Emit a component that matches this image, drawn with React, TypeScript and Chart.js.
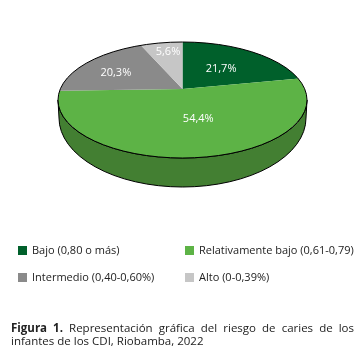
import React, { useEffect, useRef } from "react";
import { Chart, registerables } from "chart.js";

Chart.register(...registerables);

const categories = ["Bajo (0,80 o más)", "Relativamente bajo (0,61-0,79)", "Intermedio (0,40-0,60%)", "Alto (0-0,39%)"];
const values = [21.7, 54.4, 20.3, 5.6];
const colors = ["#00602b", "#5db346", "#8a8a8a", "#c6c6c6"];
const sideColor = "#437f32";
const legendLeft = [18, 185];
const legendTop = [243, 270];

// rim ellipse (cx, rimY, rx, ry), wedge apex (cx, cy), bottom edge ellipse
const PIE = { cx: 182.5, cy: 89, rimY: 100, rx: 124.5, ry: 58, up: 47, down: 69, over: 1.04, baseY: 118, baseRx: 123.5, baseRy: 69 };

const pie3d = {
  id: "pie3d",
  beforeDatasetDraw(chart: any) {
    const ctx: CanvasRenderingContext2D = chart.ctx;
    const arcs = chart.getDatasetMeta(0).data;
    const { x, y, outerRadius } = arcs[0];
    // side wall
    ctx.save();
    ctx.beginPath();
    ctx.ellipse(PIE.cx, PIE.rimY, PIE.rx, PIE.ry, 0, 0, Math.PI);
    ctx.lineTo(PIE.cx - PIE.baseRx, PIE.baseY);
    ctx.ellipse(PIE.cx, PIE.baseY, PIE.baseRx, PIE.baseRy, 0, Math.PI, 0, true);
    ctx.closePath();
    ctx.fillStyle = sideColor;
    ctx.fill();
    ctx.strokeStyle = "#000";
    ctx.lineWidth = 1;
    ctx.stroke();
    ctx.restore();
    // top face: two halves around the apex, clipped to the rim ellipse
    ctx.save();
    ctx.beginPath();
    ctx.ellipse(PIE.cx, PIE.rimY, PIE.rx, PIE.ry, 0, 0, 2 * Math.PI);
    ctx.clip();
    [
      { top: 0, h: PIE.cy, ry: PIE.up },
      { top: PIE.cy, h: 300, ry: PIE.down },
    ].forEach((half) => {
      ctx.save();
      ctx.beginPath();
      ctx.rect(0, half.top, chart.width, half.h);
      ctx.clip();
      ctx.translate(PIE.cx, PIE.cy);
      ctx.scale((PIE.rx * PIE.over) / outerRadius, (half.ry * PIE.over) / outerRadius);
      ctx.translate(-x, -y);
      arcs.forEach((a: any) => a.draw(ctx));
      ctx.restore();
    });
    ctx.restore();
    ctx.save();
    ctx.beginPath();
    ctx.ellipse(PIE.cx, PIE.rimY, PIE.rx, PIE.ry, 0, 0, 2 * Math.PI);
    ctx.strokeStyle = "#000";
    ctx.lineWidth = 1;
    ctx.stroke();
    ctx.restore();
    // labels
    const fractions = [0.5, 0.42, 0.62, 0.82];
    const nudge = [[0, -2], [9, 1], [-3, 0], [3, 1]];
    ctx.save();
    ctx.font = '11px "Open Sans"';
    ctx.fillStyle = "#fff";
    ctx.textAlign = "center";
    ctx.textBaseline = "middle";
    arcs.forEach((a: any, i: number) => {
      const mid = (a.startAngle + a.endAngle) / 2;
      const cos = Math.cos(mid), sin = Math.sin(mid);
      const px = PIE.cx + cos * PIE.rx * fractions[i] + nudge[i][0];
      const py = PIE.cy + sin * (sin < 0 ? PIE.up : PIE.down) * fractions[i] + nudge[i][1];
      ctx.fillText(values[i].toFixed(1).replace(".", ",") + "%", px, py);
    });
    ctx.restore();
    return false;
  },
};

export default function App() {
  const ref = useRef<HTMLCanvasElement>(null);
  useEffect(() => {
    const chart = new Chart(ref.current!, {
      type: "pie",
      data: {
        labels: categories,
        datasets: [{ data: values, backgroundColor: colors, borderWidth: 0 }],
      },
      options: {
        responsive: false,
        animation: false,
        layout: { padding: { left: 58, right: 58, top: 0, bottom: 108 } },
        plugins: { legend: { display: false }, tooltip: { enabled: false } },
      },
      plugins: [pie3d],
    } as any);
    return () => chart.destroy();
  }, []);
  const font = '"Open Sans", sans-serif';
  return (
    <div style={{ position: "fixed", left: 0, top: 0, width: 364, height: 357, background: "#fff", fontFamily: font, color: "#222" }}>
      <canvas ref={ref} width={364} height={357} style={{ position: "absolute", left: 0, top: 0 }} />
      {categories.map((c, i) => (
        <div key={c} style={{ position: "absolute", left: legendLeft[i % 2], top: legendTop[Math.floor(i / 2)], fontSize: 11, lineHeight: "14px", whiteSpace: "nowrap" }}>
          <span style={{ display: "inline-block", width: 9, height: 9, background: colors[i], marginRight: 5, verticalAlign: "-1px" }} />
          {c}
        </div>
      ))}
      <div style={{ position: "absolute", left: 11, top: 321, width: 343, fontSize: 11.5, lineHeight: "13px", textAlign: "justify" }}>
        <b>Figura 1.</b> Representación gráfica del riesgo de caries de los infantes de los CDI, Riobamba, 2022
      </div>
    </div>
  );
}
